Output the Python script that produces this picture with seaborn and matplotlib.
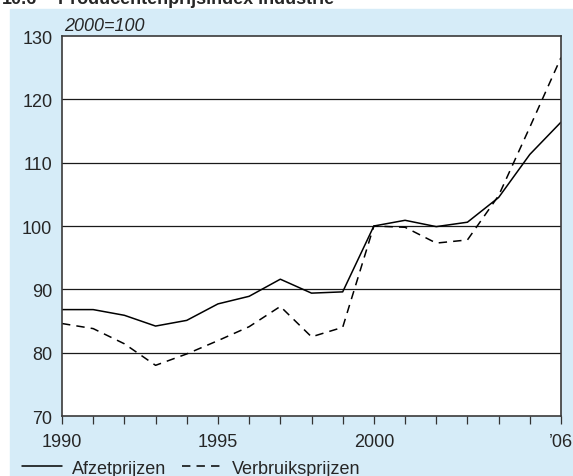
import matplotlib
matplotlib.use("Agg")
import matplotlib.pyplot as plt
import seaborn as sns
import pandas as pd

# Producer price index for industry, 2000 = 100
jaren = list(range(1990, 2007))
afzetprijzen = [86.8, 86.8, 85.9, 84.2, 85.1, 87.7, 88.9, 91.6, 89.4, 89.6,
                100.0, 100.9, 99.9, 100.6, 104.5, 111.3, 116.4]
verbruiksprijzen = [84.6, 83.8, 81.4, 78.0, 79.8, 81.9, 84.1, 87.3, 82.5, 84.0,
                    100.0, 99.8, 97.3, 97.8, 104.8, 115.6, 126.6]
reeksen = ["Afzetprijzen", "Verbruiksprijzen"]
y_ticks = [70, 80, 90, 100, 110, 120, 130]
x_labels = {1990: "1990", 1995: "1995", 2000: "2000", 2006: "\u201906"}

df = pd.DataFrame({
    "jaar": jaren * 2,
    "index": afzetprijzen + verbruiksprijzen,
    "reeks": [reeksen[0]] * len(jaren) + [reeksen[1]] * len(jaren),
})

sns.set_theme(style="white")
plt.rcParams["font.family"] = ["Liberation Sans", "DejaVu Sans"]

panel = "#d6ecf8"
fig = plt.figure(figsize=(5.73, 4.77), dpi=100)
fig.patch.set_facecolor("white")
# light blue panel behind the chart
fig.add_artist(plt.Rectangle((10 / 573, 0), 1, 1 - 10 / 477,
                             transform=fig.transFigure, color=panel, zorder=0))

ax = fig.add_axes([62 / 573, 1 - 417 / 477, 499 / 573, 380 / 477])
ax.set_facecolor("white")

sns.lineplot(data=df, x="jaar", y="index", style="reeks", color="black",
             dashes={reeksen[0]: "", reeksen[1]: (5.5, 4)}, linewidth=1.1,
             legend=False, ax=ax)

ax.set_xlim(1990, 2006)
ax.set_ylim(70, 130)
for v in y_ticks[1:-1]:
    ax.axhline(v, color="#1a1a1a", linewidth=0.9, zorder=1)

ax.set_yticks(y_ticks)
ax.set_yticklabels([str(v) for v in y_ticks])
ax.set_xticks(jaren)
ax.set_xticklabels([x_labels.get(j, "") for j in jaren])
ax.tick_params(axis="x", direction="out", length=6, width=0.9, color="#333333",
               bottom=True, labelsize=13, pad=6)
ax.tick_params(axis="y", left=False, length=0, labelsize=13, pad=7)
ax.set_xlabel("")
ax.set_ylabel("")
for s in ax.spines.values():
    s.set_color("#3a3a3a")
    s.set_linewidth(1.2)

ax.text(0.005, 1.004, "2000=100", transform=ax.transAxes, fontsize=13,
        style="italic", ha="left", va="bottom")

# chart heading, sitting at the top edge
fig.text(2 / 573, 1 - 4 / 477, "10.6", fontsize=13, fontweight="bold",
         ha="left", va="baseline")
fig.text(58 / 573, 1 - 4 / 477, "Producentenprijsindex industrie", fontsize=13,
         fontweight="bold", ha="left", va="baseline")

handles = ax.get_lines()[:2]
fig.legend(handles, reeksen, loc="lower left", bbox_to_anchor=(6 / 573, -17 / 477),
           ncol=2, frameon=False, fontsize=13, handlelength=2.2,
           handletextpad=0.55, columnspacing=0.9)

fig.savefig("out.png", dpi=100, facecolor=fig.get_facecolor())
